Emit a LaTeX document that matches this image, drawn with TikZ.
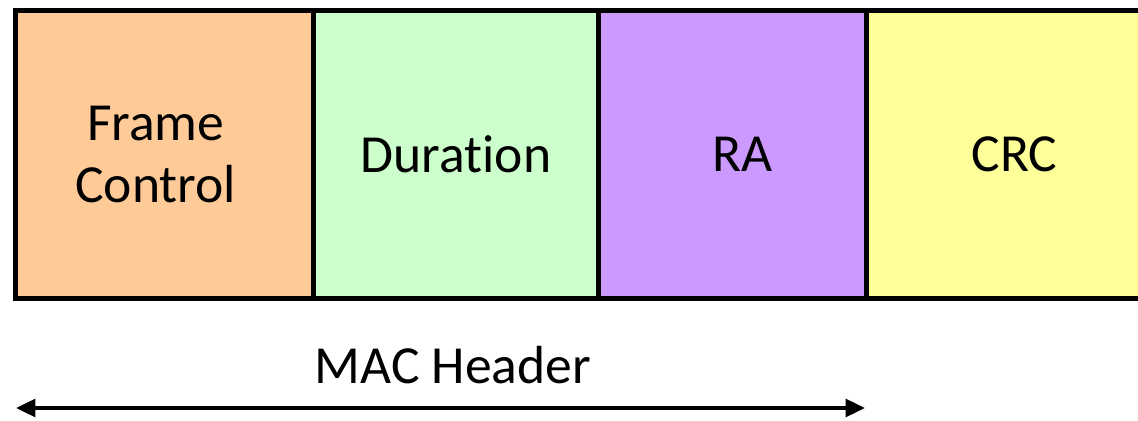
\documentclass[tikz,border=0pt]{standalone}
\usepackage{fontspec}
\setmainfont{Carlito}[Ligatures={NoCommon}]
\usetikzlibrary{arrows.meta}

\definecolor{fcorange}{HTML}{FECA98}
\definecolor{durgreen}{HTML}{CCFFCC}
\definecolor{rapurple}{HTML}{CC99FF}
\definecolor{crcyellow}{HTML}{FFFF99}

\begin{document}
\begin{tikzpicture}[x=0.02cm, y=-0.02cm,
    field/.style={draw=black, line width=2.8pt, rectangle, inner sep=0pt,
        minimum height=288*0.02cm, align=center, font=\fontsize{30.5}{35.7}\selectfont},
    span/.style={{Triangle[length=11pt,width=10pt]}-{Triangle[length=11pt,width=10pt]}, line width=2.2pt}]

    % Picture frame
    \def\picw{1138}
    \def\pich{421}
    \clip (0,0) rectangle (\picw,\pich);
    \fill[white] (0,0) rectangle (\picw,\pich);

    % Fields of the frame
    \def\ytop{8}
    \node[field, fill=fcorange, minimum width=298*0.02cm, anchor=north west] (fc) at (13,\ytop) {Frame\hspace*{10pt}\\Control\hspace*{10pt}};
    \node[field, fill=durgreen, minimum width=285*0.02cm, anchor=north west] (dur) at (311,\ytop) {Duration};
    \node[field, fill=rapurple, minimum width=268*0.02cm, anchor=north west] (ra) at (596,\ytop) {\hspace*{11pt}RA};
    \node[field, fill=crcyellow, minimum width=296*0.02cm, anchor=north west] (crc) at (864,\ytop) {CRC};

    % Span of the header
    \coordinate (hl) at (16,408);
    \coordinate (hr) at (865,408);
    \draw[span] (hl) -- (hr);
    \node[font=\fontsize{30.5}{35.7}\selectfont] (hdr) at (453,365) {MAC Header};

\end{tikzpicture}
\end{document}
